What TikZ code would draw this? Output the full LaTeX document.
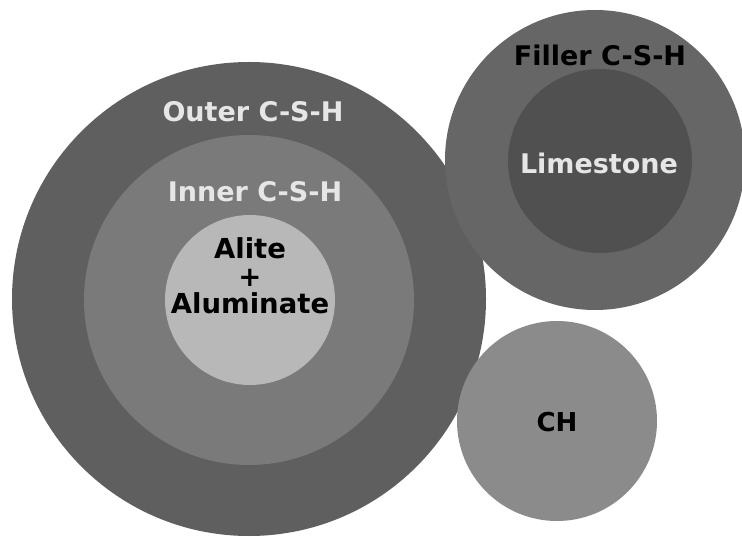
\documentclass[tikz,border=0pt]{standalone}
\usepackage{fontspec}
\setmainfont{DejaVu Sans}
\usetikzlibrary{positioning}
\definecolor{outergray}{HTML}{5F5F5F}
\definecolor{innergray}{HTML}{7A7A7A}
\definecolor{alitegray}{HTML}{B8B8B8}
\definecolor{fillergray}{HTML}{666666}
\definecolor{limegray}{HTML}{505050}
\definecolor{chgray}{HTML}{8B8B8B}
\definecolor{lighttext}{HTML}{E6E6E6}

\begin{document}
\begin{tikzpicture}[x=1pt,y=-1pt,disc/.style={circle,draw=none,inner sep=0pt},lbl/.style={font=\fontsize{27}{28}\selectfont\bfseries,inner sep=0pt}]
\useasboundingbox (0,0) rectangle (742,537);
% cement grain with its two C-S-H shells
\node[disc,fill=outergray,minimum size=474pt](outer) at (249,299){};
\node[disc,fill=innergray,minimum size=330pt](inner) at (249,300){};
\node[disc,fill=alitegray,minimum size=170pt](alite) at (250,300){};
% limestone filler
\node[disc,fill=fillergray,minimum size=300pt](filler) at (595,160){};
\node[disc,fill=limegray,minimum size=184pt](lime) at (600,161){};
% portlandite
\node[disc,fill=chgray,minimum size=200pt](ch) at (557,421){};
% labels
\node[lbl,text=lighttext](outerlbl) at (253,112){Outer C-S-H};
\node[lbl,text=lighttext](innerlbl) at (255,192){Inner C-S-H};
\node[lbl,align=center,font=\fontsize{27.5}{27.5}\selectfont\bfseries](alitelbl) at (250,276){Alite\\+\\Aluminate};
\node[lbl](fillerlbl) at (600,55){Filler C-S-H};
\node[lbl,text=lighttext](limelbl) at (599,163){Limestone};
\node[lbl,font=\fontsize{26}{27}\selectfont\bfseries](chlbl) at (557,422){CH};
\end{tikzpicture}
\end{document}
